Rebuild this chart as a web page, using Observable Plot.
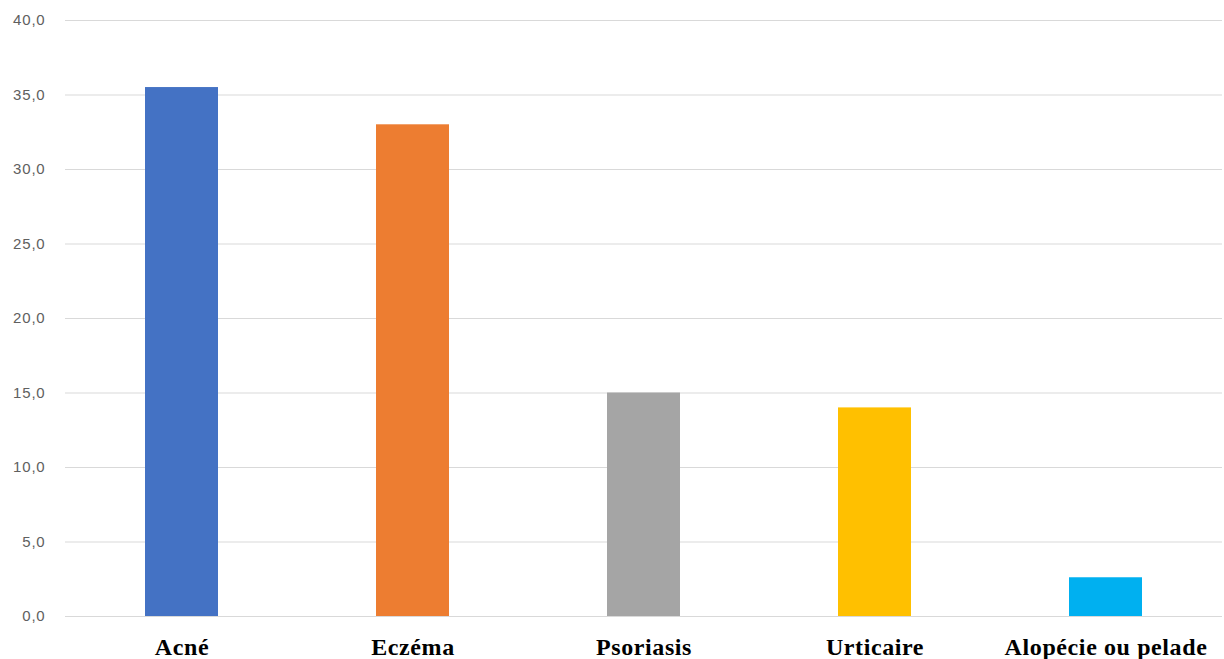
<!DOCTYPE html>
<html>
<head>
<meta charset="utf-8">
<script src="https://cdn.jsdelivr.net/npm/d3@7"></script>
<script src="https://cdn.jsdelivr.net/npm/@observablehq/plot@0.6"></script>
<style>
  html, body { margin: 0; padding: 0; background: #fff; }
  #chart svg { display: block; }
  #chart svg g[aria-label="x-axis tick label"] text { letter-spacing: 0.6px; }
  #chart svg g[aria-label="y-axis tick label"] text { letter-spacing: 0.8px; }
</style>
</head>
<body>
<div id="chart"></div>
<script>
const categories = ["Acné", "Eczéma", "Psoriasis", "Urticaire", "Alopécie ou pelade"];
const values = [35.5, 33.0, 15.0, 14.0, 2.6];
const colors = ["#4472C4", "#ED7D31", "#A5A5A5", "#FFC000", "#00B0F0"];
const yTicks = [0, 5, 10, 15, 20, 25, 30, 35, 40];

const data = categories.map((c, i) => ({category: c, value: values[i], color: colors[i]}));

const fmt = d => d.toFixed(1).replace(".", ",");

const chart = Plot.plot({
  width: 1224,
  height: 659,
  marginLeft: 65,
  marginRight: 2,
  marginTop: 20,
  marginBottom: 43,
  style: {background: "#fff"},
  x: {domain: categories, paddingInner: 0.684, paddingOuter: 0.342, label: null},
  y: {domain: [0, 40], label: null},
  marks: [
    Plot.gridY(yTicks, {stroke: "#d9d9d9", strokeOpacity: 1, strokeWidth: 1}),
    Plot.barY(data, {x: "category", y: "value", fill: "color"}),
    Plot.axisY(yTicks, {tickSize: 0, tickPadding: 20, tickFormat: fmt, fontSize: 15, fill: "#606060", fontFamily: "Liberation Sans, Arial, sans-serif", label: null}),
    Plot.axisX({tickSize: 0, tickPadding: 21, fontSize: 24, fontWeight: "bold", fill: "#000", fontFamily: "Liberation Serif, Times New Roman, serif", label: null})
  ]
});
document.getElementById("chart").appendChild(chart);
</script>
</body>
</html>
